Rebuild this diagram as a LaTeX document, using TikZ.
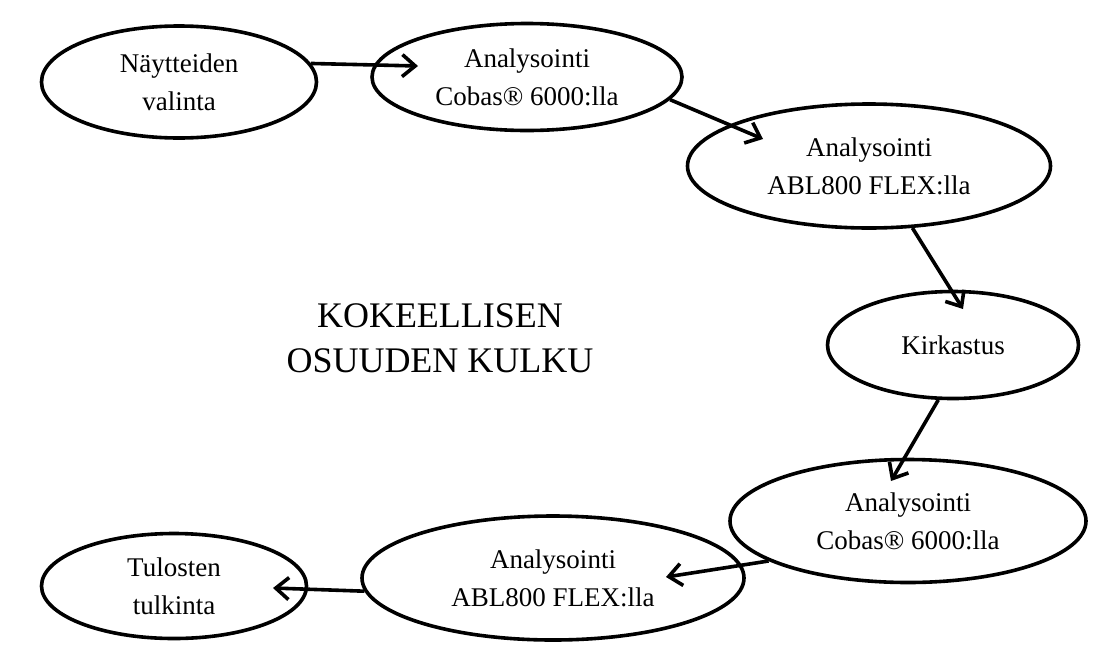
\documentclass[tikz,border=0pt]{standalone}
\usepackage{fontspec}
\setmainfont{Liberation Serif}
\usetikzlibrary{shapes.geometric,arrows.meta}
\begin{document}
\begin{tikzpicture}[x=1pt,y=-1pt,
  stage/.style={draw,ellipse,line width=3.6pt,inner sep=0pt,align=center,
    font=\fontsize{27}{38}\selectfont},
  flow/.style={line width=3.6pt,-{Straight Barb[length=13pt,width=22pt,line width=3.6pt]}},
  title/.style={align=center,font=\fontsize{36}{45}\selectfont}]
\useasboundingbox (0,0) rectangle (1108,646);
\node[stage,minimum width=275,minimum height=112] (n1) at (179,82) {Näytteiden\\valinta};
\node[stage,minimum width=310,minimum height=107] (n2) at (527,77) {Analysointi\\Cobas® 6000:lla};
\node[stage,minimum width=363,minimum height=124] (n3) at (869,166) {Analysointi\\ABL800 FLEX:lla};
\node[stage,minimum width=251,minimum height=107] (n4) at (953,345) {Kirkastus};
\node[stage,minimum width=356,minimum height=123] (n5) at (908,521) {Analysointi\\Cobas® 6000:lla};
\node[stage,minimum width=382,minimum height=124] (n6) at (553,578) {Analysointi\\ABL800 FLEX:lla};
\node[stage,minimum width=265,minimum height=105] (n7) at (174,586) {Tulosten\\tulkinta};
\node[title] (t) at (440,338) {KOKEELLISEN\\OSUUDEN KULKU};
\coordinate (a2) at (418,66);
\coordinate (a3) at (763,139);
\coordinate (a4) at (963,309);
\coordinate (a5) at (891,481);
\coordinate (a6) at (666,577);
\coordinate (a7) at (273,588);
\draw[flow] (n1.8) -- (a2);
\draw[flow] (n2.-9) -- (a3);
\draw[flow] (n3.-55) -- (a4);
\draw[flow] (n4.-105) -- (a5);
\draw[flow] (n5.-164) -- (a6);
\draw[flow] (n6.-176) -- (a7);
\end{tikzpicture}
\end{document}
